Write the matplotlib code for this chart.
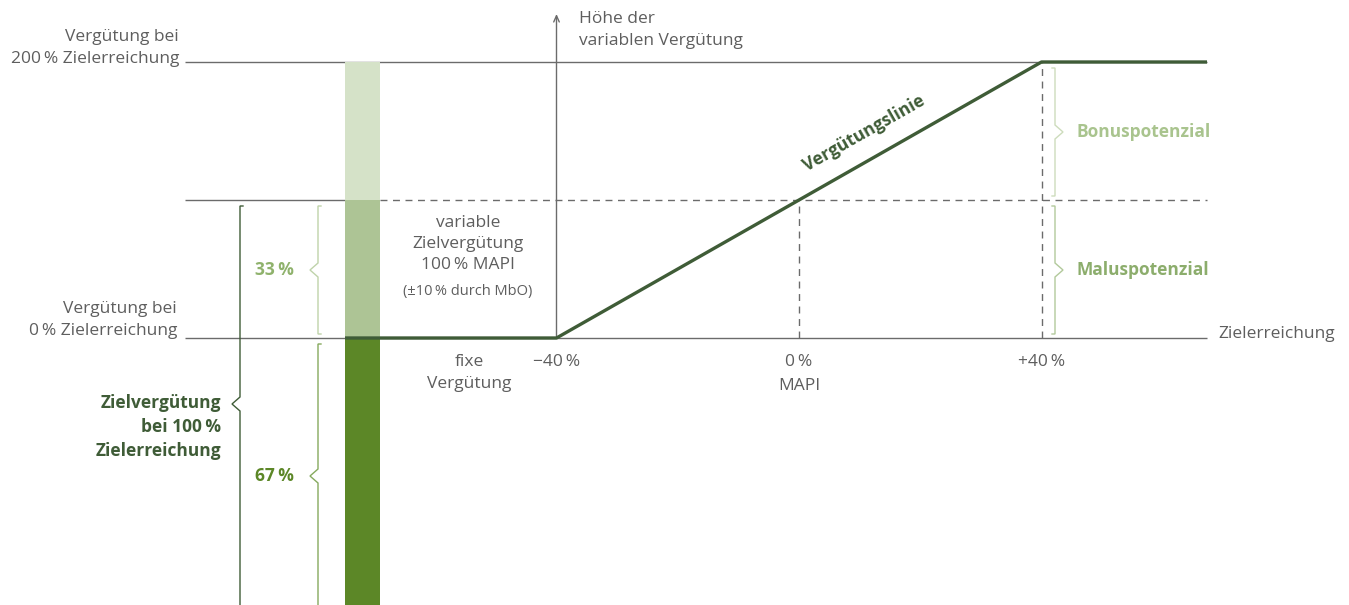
import matplotlib.pyplot as plt

plt.rcParams['font.family'] = ['Open Sans', 'DejaVu Sans']

# Anteile an der Zielvergütung (%)
fix_anteil = 67
var_anteil = 33
bonus_anteil = 33
# Zielerreichung (%), Untergrenze / Kappung der Vergütungslinie
ziel_ticks = [-40, 0, 40]
ziel_labels = ['−40\u2009%', '0\u2009%', '+40\u2009%']
kappung = [-40, 40]

TEXT = '#5e5e5e'
GREY = '#6b6b6b'
DARK = '#3f5c37'
C_FIX = '#5c8727'
C_VAR = '#adc495'
C_BONUS = '#d5e2c8'

fig = plt.figure(figsize=(13.49, 6.05), dpi=100)
ax = fig.add_axes([0, 0, 1, 1])
ax.axis('off')

# layout: pixel anchors -> data (x: Zielerreichung, y: % Zielvergütung)
PX_PER_X = (1042 - 557) / 80
PX_PER_Y = (338 - 62) / (var_anteil + bonus_anteil)


def dx(p):
    return (p - 799) / PX_PER_X


def dy(p):
    return fix_anteil + (338 - p) / PX_PER_Y


ax.set_xlim(dx(0), dx(1349))
ax.set_ylim(dy(605), dy(0))

y_fix = fix_anteil
y_ziel = fix_anteil + var_anteil
y_max = y_ziel + bonus_anteil

# horizontal guides
ax.hlines([y_max, y_fix], dx(185), dx(1207), color=GREY, lw=1.0, zorder=1)
ax.hlines(y_ziel, dx(185), dx(345), color=GREY, lw=1.0, zorder=1)
ax.hlines(y_ziel, dx(380), dx(1207), color=GREY, lw=1.0, ls=(0, (5, 4)), zorder=1)
ax.vlines(ziel_ticks[1], y_fix, y_ziel, color=GREY, lw=1.0, ls=(0, (5, 4)), zorder=1)
ax.vlines(ziel_ticks[2], y_fix, y_max, color=GREY, lw=1.0, ls=(0, (5, 4)), zorder=1)

# y axis with arrow
ax.annotate('', xy=(ziel_ticks[0], dy(14)), xytext=(ziel_ticks[0], y_fix),
            arrowprops=dict(arrowstyle='->,head_length=0.45,head_width=0.2', color=GREY, lw=1.0,
                            shrinkA=0, shrinkB=0), zorder=1)

# stacked bar
ax.bar(dx(345), [fix_anteil, var_anteil, bonus_anteil], bottom=[0, y_fix, y_ziel],
       width=dx(380) - dx(345), align='edge', color=[C_FIX, C_VAR, C_BONUS], zorder=2)

# Vergütungslinie
ax.plot([dx(345), kappung[0], kappung[1], dx(1207)], [y_fix, y_fix, y_max, y_max],
        color=DARK, lw=2.4, solid_capstyle='butt', zorder=3)
ax.text(dx(864), dy(133), 'Vergütungslinie', rotation=29.6, rotation_mode='anchor',
        ha='center', va='center', color=DARK, fontsize=12.5, fontweight='bold')


def brace(xp, top, bot, color, side=-1, mid=None, lw=1.0):
    # curly brace drawn in pixel layout, notch points to `side`
    if mid is None:
        mid = (top + bot) / 2
    pts_x = [xp - side * 3, xp, xp, xp + side * 8, xp, xp, xp - side * 3]
    pts_y = [top, top, mid - 7, mid, mid + 7, bot, bot]
    ax.plot([dx(p) for p in pts_x], [dy(p) for p in pts_y], color=color, lw=lw,
            solid_joinstyle='miter', zorder=2)


brace(240, 206, 620, DARK, mid=404)  # big one runs off the bottom
brace(318, 206, 334, '#bfd3aa')
brace(318, 344, 609, '#86aa5e', mid=476)
brace(1055, 68, 196, '#cddcbc', side=1)
brace(1055, 206, 334, '#b2c99b', side=1)

fs = 12.5
ls = 1.42
ax.text(dx(179), dy(48), 'Vergütung bei\n200\u2009% Zielerreichung', ha='right', va='center',
        color=TEXT, fontsize=fs, linespacing=ls)
ax.text(dx(177), dy(320), 'Vergütung bei\n0\u2009% Zielerreichung', ha='right', va='center',
        color=TEXT, fontsize=fs, linespacing=ls)
ax.text(dx(221), dy(427), 'Zielvergütung\nbei 100\u2009%\nZielerreichung', ha='right', va='center',
        color=DARK, fontsize=fs, fontweight='bold', linespacing=ls)
ax.text(dx(294), dy(270), f'{var_anteil}\u2009%', ha='right', va='center',
        color='#8fb26c', fontsize=fs, fontweight='bold')
ax.text(dx(294), dy(476), f'{fix_anteil}\u2009%', ha='right', va='center',
        color=C_FIX, fontsize=fs, fontweight='bold')
ax.text(dx(468), dy(244), 'variable\nZielvergütung\n100\u2009% MAPI', ha='center', va='center',
        color=TEXT, fontsize=fs, linespacing=ls)
ax.text(dx(468), dy(291), '(±10\u2009% durch MbO)', ha='center', va='center',
        color=TEXT, fontsize=10.5)
ax.text(dx(469), dy(373), 'fixe\nVergütung', ha='center', va='center',
        color=TEXT, fontsize=fs, linespacing=ls)
for t, lab in zip(ziel_ticks, ziel_labels):
    ax.text(t, dy(362), lab, ha='center', va='center', color=TEXT, fontsize=fs)
ax.text(ziel_ticks[1], dy(386), 'MAPI', ha='center', va='center', color=TEXT, fontsize=fs)
ax.text(dx(579), dy(30), 'Höhe der\nvariablen Vergütung', ha='left', va='center',
        color=TEXT, fontsize=fs, linespacing=ls)
ax.text(dx(1218), dy(334), 'Zielerreichung', ha='left', va='center', color=TEXT, fontsize=fs)
ax.text(dx(1077), dy(132), 'Bonuspotenzial', ha='left', va='center',
        color='#a9c48e', fontsize=fs, fontweight='bold')
ax.text(dx(1077), dy(270), 'Maluspotenzial', ha='left', va='center',
        color='#8cad6c', fontsize=fs, fontweight='bold')

fig.savefig('out.png', dpi=100)
